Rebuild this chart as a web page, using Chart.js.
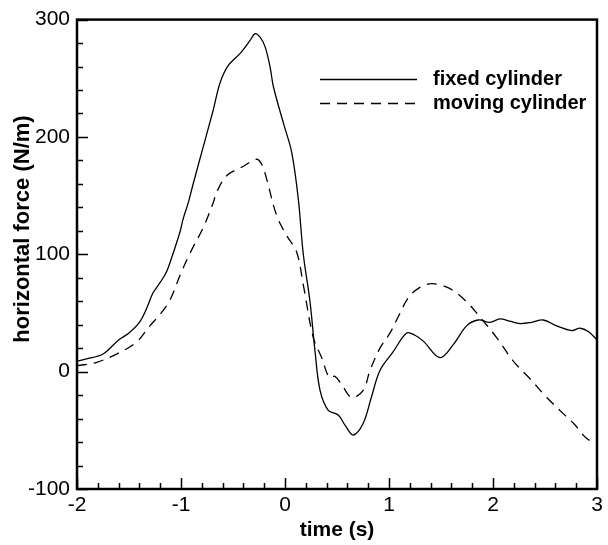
<!DOCTYPE html>
<html>
<head>
<meta charset="utf-8">
<script src="https://cdn.jsdelivr.net/npm/chart.js@4"></script>
<style>
  html, body { margin: 0; padding: 0; background: #fff; }
  #wrap { width: 608px; height: 545px; position: relative; }
</style>
</head>
<body>
<div id="wrap"><canvas id="chart"></canvas></div>
<script>
// values
const fixedTime = [-2.0, -1.9, -1.75, -1.6, -1.5, -1.4, -1.33, -1.27, -1.2, -1.14, -1.09, -1.01, -0.98, -0.93, -0.88, -0.785, -0.69, -0.625, -0.545, -0.433, -0.337, -0.288, -0.24, -0.192, -0.144, -0.112, -0.016, 0.064, 0.128, 0.176, 0.24, 0.288, 0.337, 0.416, 0.512, 0.58, 0.656, 0.752, 0.83, 0.913, 1.041, 1.17, 1.25, 1.33, 1.49, 1.618, 1.746, 1.858, 1.97, 2.067, 2.16, 2.26, 2.37, 2.483, 2.612, 2.757, 2.837, 2.92, 3.0];
const fixedForce = [9, 11, 15, 27, 33, 42, 54, 67, 76, 85, 97, 119, 130, 144, 161, 192, 223, 246, 261, 271, 282, 288, 285, 277, 260, 243, 212, 187, 147, 100, 60, 18, -16, -33, -37, -46, -54, -44, -22, 1, 17, 33, 31, 26, 12, 23, 39, 44, 42, 45, 43, 41, 42, 44, 39, 35, 37, 34, 27];

const movingTime = [-2.0, -1.81, -1.62, -1.43, -1.3, -1.2, -1.106, -1.01, -0.913, -0.785, -0.69, -0.657, -0.561, -0.401, -0.272, -0.22, -0.176, -0.08, 0.016, 0.112, 0.176, 0.272, 0.352, 0.426, 0.48, 0.545, 0.641, 0.752, 0.817, 0.913, 1.01, 1.09, 1.186, 1.283, 1.41, 1.555, 1.65, 1.763, 1.843, 2.035, 2.195, 2.356, 2.517, 2.678, 2.774, 2.902, 3.0];
const movingForce = [5, 8, 15, 25, 39, 49, 61, 82, 101, 123, 144, 153, 167, 175, 181, 176, 164, 133, 116, 102, 74, 29, 12, -5, -4, -11, -22, -16, 1, 20, 33, 47, 63, 71, 75, 72, 67, 58, 50, 29, 9, -6, -22, -36, -44, -57, -61];

const seriesNames = ['fixed cylinder', 'moving cylinder'];
const xTitle = 'time (s)';
const yTitle = 'horizontal force (N/m)';

const FONT = '"Liberation Sans", Arial, sans-serif';

function toPoints(xs, ys) {
  return xs.map((x, i) => ({ x, y: ys[i] }));
}

// inward ticks, minor ticks, box frame, axis titles and legend
const decorPlugin = {
  id: 'decor',
  afterDraw(chart) {
    const { ctx, chartArea: a, scales: { x, y } } = chart;
    ctx.save();
    ctx.strokeStyle = '#000';

    ctx.lineWidth = 1.5;
    ctx.beginPath();
    for (let i = 0; i <= 25; i++) {
      const v = -2 + i * 0.2;
      const px = Math.round(x.getPixelForValue(v)) + 0.5;
      const len = i % 5 === 0 ? 11 : 6;
      ctx.moveTo(px, a.bottom);
      ctx.lineTo(px, a.bottom - len);
    }
    for (let i = 0; i <= 20; i++) {
      const v = -100 + i * 20;
      const py = Math.round(y.getPixelForValue(v)) + 0.5;
      const len = i % 5 === 0 ? 11 : 6;
      ctx.moveTo(a.left, py);
      ctx.lineTo(a.left + len, py);
    }
    ctx.stroke();

    ctx.lineWidth = 2.5;
    ctx.strokeRect(a.left, a.top, a.right - a.left, a.bottom - a.top);

    ctx.fillStyle = '#000';
    ctx.textAlign = 'center';
    ctx.textBaseline = 'middle';
    ctx.font = 'bold 21px ' + FONT;
    ctx.fillText(xTitle, (a.left + a.right) / 2, 530);

    ctx.save();
    ctx.translate(23, 229);
    ctx.rotate(-Math.PI / 2);
    ctx.font = 'bold 22px ' + FONT;
    ctx.fillText(yTitle, 0, 0);
    ctx.restore();

    // legend
    ctx.textAlign = 'left';
    ctx.font = 'bold 20px ' + FONT;
    chart.data.datasets.forEach((ds, i) => {
      const ly = 79 + i * 24;
      ctx.lineWidth = 1.3;
      ctx.setLineDash(ds.borderDash || []);
      ctx.beginPath();
      ctx.moveTo(320, ly + 0.5);
      ctx.lineTo(417, ly + 0.5);
      ctx.stroke();
      ctx.setLineDash([]);
      ctx.fillText(ds.label, 433, ly);
    });
    ctx.restore();
  },
};

new Chart(document.getElementById('chart'), {
  type: 'line',
  data: {
    datasets: [
      {
        label: seriesNames[0],
        data: toPoints(fixedTime, fixedForce),
        borderColor: '#000',
        borderWidth: 1.3,
        pointRadius: 0,
        tension: 0.35,
        fill: false,
      },
      {
        label: seriesNames[1],
        data: toPoints(movingTime, movingForce),
        borderColor: '#000',
        borderWidth: 1.3,
        borderDash: [10, 7],
        pointRadius: 0,
        tension: 0.35,
        fill: false,
      },
    ],
  },
  options: {
    responsive: true,
    maintainAspectRatio: false,
    animation: false,
    layout: { padding: { top: 16, right: 11, left: 0, bottom: 0 } },
    plugins: { legend: { display: false }, tooltip: { enabled: false } },
    scales: {
      x: {
        type: 'linear',
        min: -2,
        max: 3,
        border: { display: false },
        grid: { display: false, drawTicks: false },
        ticks: { stepSize: 1, padding: 4, color: '#000', font: { family: FONT, size: 21 } },
        afterFit: s => { s.height = 56; },
      },
      y: {
        min: -100,
        max: 300,
        border: { display: false },
        grid: { display: false, drawTicks: false },
        ticks: { stepSize: 100, padding: 7, color: '#000', font: { family: FONT, size: 21 } },
        afterFit: s => { s.width = 77; },
      },
    },
  },
  plugins: [decorPlugin],
});
</script>
</body>
</html>
